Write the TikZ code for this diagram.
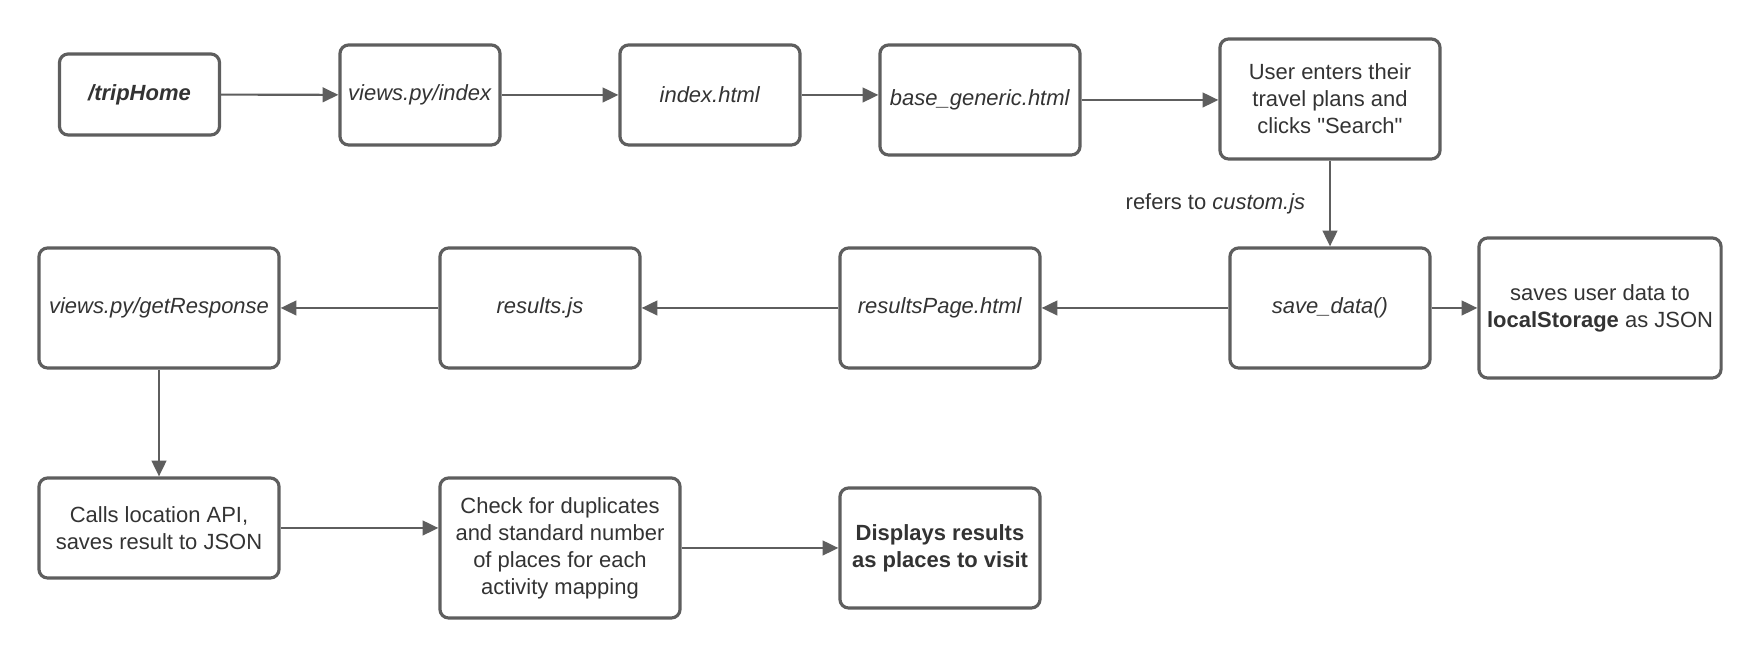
\documentclass[tikz,border=0pt]{standalone}
\usepackage{fontspec}
\setmainfont{Liberation Sans}
\usetikzlibrary{arrows.meta}
\usetikzlibrary{calc}
\definecolor{linegray}{HTML}{5E5E5E}
\definecolor{textgray}{HTML}{333333}

\begin{document}
\begin{tikzpicture}[x=0.01cm, y=-0.01cm,
  box/.style={draw=linegray, line width=0.9pt, rounded corners=2.5pt, align=center, text=textgray,
    inner xsep=1pt, font=\fontsize{6.25}{7.7}\selectfont},
  flow/.style={->, draw=linegray, line width=0.6pt},
  >={Triangle[length=4.5pt,width=4.2pt]}]
\useasboundingbox (0,0) rectangle (1760,659);
% first row
\node[box, minimum width=1.6cm, minimum height=0.81cm] (trip) at (139.5,94.5) {\textbf{\textit{/tripHome}}};
\node[box, minimum width=1.6cm, minimum height=1cm] (vidx) at (420,95) {\textit{views.py/index}};
\node[box, minimum width=1.8cm, minimum height=1cm] (idx) at (710,95) {\textit{index.html}};
\node[box, minimum width=2cm, minimum height=1.1cm] (base) at (980,100) {\textit{base\_generic.html}};
\node[box, minimum width=2.2cm, minimum height=1.2cm] (user) at (1330,99) {User enters their\\travel plans and\\clicks \textquotedbl Search\textquotedbl};
\draw[flow] (trip) -- (vidx);
\draw[flow] (vidx) -- (idx);
\draw[flow] (idx) -- (idx -| base.west);
\draw[flow] (base) -- (base -| user.west);
% second row
\node[box, minimum width=2cm, minimum height=1.2cm] (save) at (1330,308) {\textit{save\_data()}};
\node[box, minimum width=2.42cm, minimum height=1.4cm] (local) at (1600,308) {saves user data to\\\textbf{localStorage} as JSON};
\node[box, minimum width=2cm, minimum height=1.2cm] (rpage) at (940,308) {\textit{resultsPage.html}};
\node[box, minimum width=2cm, minimum height=1.2cm] (rjs) at (540,308) {\textit{results.js}};
\node[box, minimum width=2.4cm, minimum height=1.2cm] (getr) at (159,308) {\textit{views.py/getResponse}};
\draw[flow] (user) -- node[left=0.12cm, text=textgray, font=\fontsize{6.25}{7.7}\selectfont] {refers to \textit{custom.js}} (save);
\draw[flow] (save) -- (local);
\draw[flow] (save) -- (rpage);
\draw[flow] (rpage) -- (rjs);
\draw[flow] (rjs) -- (getr);
% third row
\node[box, minimum width=2.4cm, minimum height=1cm] (calls) at (159,528) {Calls location API,\\saves result to JSON};
\node[box, minimum width=2.4cm, minimum height=1.4cm] (check) at (560,548) {Check for duplicates\\and standard number\\of places for each\\activity mapping};
\node[box, minimum width=2cm, minimum height=1.2cm] (disp) at (940,548) {\textbf{Displays results}\\\textbf{as places to visit}};
\draw[flow] (getr) -- (calls);
\draw[flow] (calls.east) -- (calls.east -| check.west);
\draw[flow] (check) -- (disp);
\end{tikzpicture}
\end{document}
